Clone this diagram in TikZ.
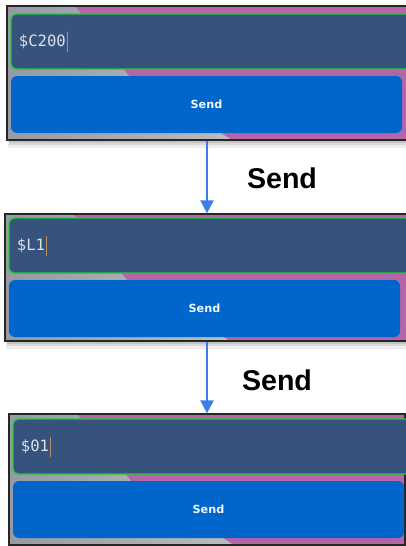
\documentclass[tikz,border=0pt]{standalone}
\usepackage{fontspec}
\setmainfont{Liberation Sans}
\newfontfamily\monofont{DejaVu Sans Mono}
\newfontfamily\uifont{DejaVu Sans}
\usetikzlibrary{arrows.meta,fit,calc}
\definecolor{panelpurple}{HTML}{B565A7}
\definecolor{panelgray}{HTML}{959AA3}
\definecolor{panellight}{HTML}{B9BDC2}
\definecolor{inputfill}{HTML}{36537D}
\definecolor{inputedge}{HTML}{22CC33}
\definecolor{btnfill}{HTML}{0066CC}
\definecolor{arrowblue}{HTML}{3B7EE8}
\definecolor{typed}{HTML}{DCE1E8}
\definecolor{caretcol}{HTML}{B8905E}
\definecolor{shadowcol}{HTML}{7A7A7A}
\tikzset{
  frame/.style={inner sep=0pt, draw=black!85, line width=0.6pt},
  inputbox/.style={inner sep=0pt, draw=inputedge, line width=0.7pt, fill=inputfill, rounded corners=2.5pt},
  btnbox/.style={inner sep=0pt, fill=btnfill, rounded corners=3pt},
  typedtext/.style={inner sep=0pt, anchor=west, text=typed, font=\monofont\fontsize{7.8}{8}\selectfont},
  btnlabel/.style={inner sep=0pt, text=white!95!btnfill, font=\uifont\bfseries\fontsize{5.6}{6}\selectfont},
  steplabel/.style={inner sep=0pt, font=\bfseries\fontsize{14.3}{16}\selectfont},
  flow/.style={draw=arrowblue, line width=1pt, -{Triangle[width=6.5pt,length=6.5pt]}},
  caretline/.style={draw=caretcol, line width=0.5pt}
}
% #1 name, #2 x0, #3 x1, #4 y0, #5 y1, #6 input top offset, #7 button top offset, #8 text
\newcommand\uipanel[8]{%
  \fill[shadowcol, opacity=0.12] (#2+1,#5-1) rectangle (#3,#5+8);
  \fill[shadowcol, opacity=0.18] (#2+2,#5) rectangle (#3,#5+5);
  \fill[shadowcol, opacity=0.22] (#2+2,#5) rectangle (#3,#5+2.5);
  \fill[panelpurple] (#2,#4) rectangle (#3,#5);
  \begin{scope}
    \clip (#2,#4) rectangle (#3,#5);
    \shade[left color=panelgray, right color=panellight] (#2,#4) -- (#2+68,#4) -- (#2+122,#4+#7) -- (#2+225,#5) -- (#2,#5) -- cycle;
  \end{scope}
  \node[frame, fit={(#2,#4) (#3,#5)}] (#1) {};
  \node[inputbox, fit={(#2+4,#4+#6) (#3+10,#4+#6+55)}] (#1in) {};
  \node[btnbox, fit={(#2+4,#4+#7) (#2+395,#4+#7+57)}] (#1btn) {};
  \node[btnlabel] (#1send) at (#1btn.center) {Send};
  \node[typedtext] (#1txt) at ($(#2+11.5,#4+#6+27.5)$) {#8};
  \draw[caretline] ($(#1txt.east)+(1.5,-10)$) -- ($(#1txt.east)+(1.5,10)$);
}
\begin{document}
\begin{tikzpicture}[x=0.5pt,y=-0.5pt]
\useasboundingbox (0,0) rectangle (406,546);
\clip (0,0) rectangle (406,546);
\fill[white] (0,0) rectangle (406,546);
\uipanel{p1}{7}{407}{6}{140}{8}{70}{\$C200}
\uipanel{p2}{5}{409}{214}{341}{4}{66}{\$L1}
\uipanel{p3}{9}{405}{414}{545}{5}{67}{\$01}
\draw[flow] (p1.south) -- (p2.north);
\draw[flow] (p2.south) -- (p3.north);
\node[steplabel] (l1) at (282,178) {Send};
\node[steplabel] (l2) at (277,380) {Send};
\end{tikzpicture}
\end{document}
